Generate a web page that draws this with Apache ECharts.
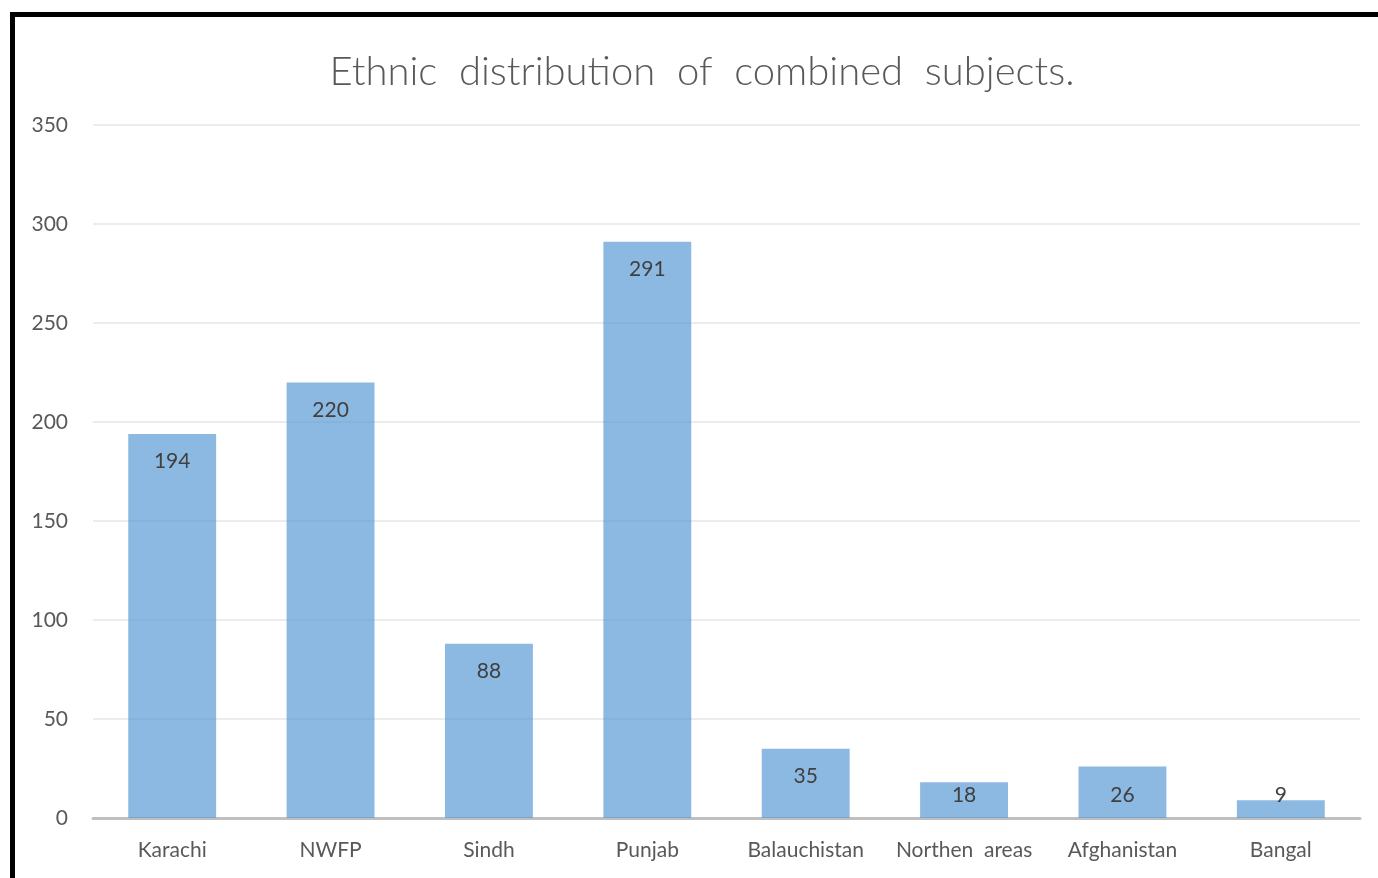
<!DOCTYPE html>
<html>
<head>
<meta charset="utf-8">
<script src="https://cdn.jsdelivr.net/npm/echarts@6/dist/echarts.min.js"></script>
<style>
  html, body { margin: 0; padding: 0; background: #fff; overflow: hidden; }
  #frame { position: absolute; left: 10px; top: 12px; width: 1400px; height: 900px; border: 5px solid #000; box-sizing: border-box; }
  #chart { position: absolute; left: 0; top: 0; width: 1378px; height: 878px; }
</style>
</head>
<body>
<div id="frame"></div>
<div id="chart"></div>
<script>
const categories = ['Karachi', 'NWFP', 'Sindh', 'Punjab', 'Balauchistan', 'Northen  areas', 'Afghanistan', 'Bangal'];
const counts = [194, 220, 88, 291, 35, 18, 26, 9];
const yTicks = [0, 50, 100, 150, 200, 250, 300, 350];

const chart = echarts.init(document.getElementById('chart'));

// short bars get their label at the bottom, like Excel clamps them
const barData = counts.map(v => v < 30
    ? { value: v, label: { position: 'insideBottom', distance: 12 } }
    : { value: v });

const option = {
    backgroundColor: 'transparent',
    title: {
        text: 'Ethnic  distribution  of  combined  subjects.',
        left: 697,
        top: 47,
        textAlign: 'center',
        textStyle: {
            fontFamily: 'Lato',
            fontWeight: 300,
            fontSize: 40,
            color: '#595959'
        }
    },
    grid: {
        left: 93,
        right: 18,
        top: 125,
        bottom: 60,
        containLabel: false
    },
    xAxis: {
        type: 'category',
        data: categories,
        axisLine: { lineStyle: { color: '#bfbfbf', width: 3 } },
        axisTick: { show: false },
        axisLabel: {
            margin: 22,
            fontFamily: 'Lato',
            fontSize: 21,
            color: '#595959',
            interval: 0
        }
    },
    yAxis: {
        type: 'value',
        min: yTicks[0],
        max: yTicks[yTicks.length - 1],
        interval: 50,
        axisLine: { show: false },
        axisTick: { show: false },
        splitLine: { lineStyle: { color: '#ececec', width: 2 } },
        axisLabel: {
            margin: 25,
            fontFamily: 'Lato',
            fontSize: 21,
            color: '#595959'
        }
    },
    series: [{
        type: 'bar',
        data: barData,
        barWidth: '55.5%',
        itemStyle: { color: 'rgba(91,155,213,0.7)' },
        label: {
            show: true,
            position: 'insideTop',
            distance: 17,
            fontFamily: 'Lato',
            fontSize: 21,
            color: '#404040'
        }
    }]
};
chart.setOption(option);
</script>
</body>
</html>
